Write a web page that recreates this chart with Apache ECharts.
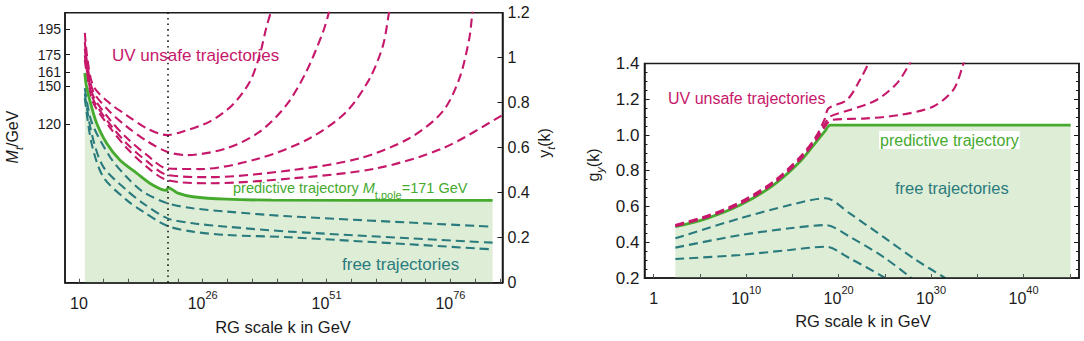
<!DOCTYPE html>
<html>
<head>
<meta charset="utf-8">
<script src="https://cdn.jsdelivr.net/npm/echarts@6/dist/echarts.min.js"></script>
<style>html,body{margin:0;padding:0;background:#fff;}#c{width:1084px;height:341px;}</style>
</head>
<body>
<div id="c"></div>
<script>
// ---------- DATA (x = log10 of k/GeV) ----------
// Left panel: top Yukawa y_t(k)
const leftXTicks = [1, 26, 51, 76];
const leftXMinor = [1, 6, 11, 16, 21, 26, 31, 36, 41, 46, 51, 56, 61, 66, 71, 76, 81, 86];
const leftMtTicks = [120, 150, 161, 175, 195];
const leftYtTicks = [0, 0.2, 0.4, 0.6, 0.8, 1, 1.2];
const planckLog = 18.9;

const leftGreen = [[2.2,0.932],[2.55,0.871],[3.56,0.782],[4.57,0.71],[6.58,0.621],[9.27,0.545],[12.6,0.488],[15.9,0.434],[18.7,0.41],[19.0,0.423],[21,0.398],[24,0.382],[30.8,0.371],[40,0.367],[84.5,0.366]];
const leftUV1 = [[2.2,1.11],[2.7,1.0],[3.9,0.875],[7.25,0.797],[10.6,0.745],[14.7,0.686],[18.8,0.656],[21.4,0.668],[27.4,0.716],[32.0,0.79],[35.5,0.893],[37.5,1.012],[38.8,1.131],[39.85,1.212],[40.3,1.26]];
const leftUV2 = [[2.2,1.07],[2.7,0.97],[3.9,0.85],[7.25,0.76],[10.6,0.695],[14.7,0.63],[18.8,0.582],[22.7,0.567],[30.8,0.597],[37.5,0.671],[42.9,0.79],[46.9,0.938],[50.3,1.116],[51.6,1.212],[52.2,1.26]];
const leftUV3 = [[2.2,1.04],[2.7,0.95],[3.9,0.83],[7.25,0.725],[10.6,0.645],[14.7,0.568],[18.8,0.508],[25.4,0.505],[37.5,0.553],[47.6,0.642],[55.0,0.76],[59.7,0.908],[62.4,1.056],[63.7,1.212],[64.3,1.26]];
const leftUV4 = [[2.2,1.01],[2.7,0.93],[3.9,0.815],[7.25,0.705],[10.6,0.62],[14.7,0.54],[18.8,0.479],[27.4,0.469],[44.2,0.501],[57.7,0.553],[67.7,0.642],[74.4,0.76],[77.8,0.908],[79.8,1.086],[80.5,1.212],[81,1.26]];
const leftUV5 = [[2.2,0.99],[2.7,0.915],[3.9,0.8],[7.25,0.69],[10.6,0.60],[14.7,0.515],[18.8,0.456],[27.4,0.442],[44.2,0.464],[61.0,0.508],[74.4,0.597],[86.5,0.745],[88,0.77]];
const leftFree1 = [[2.2,0.865],[3.56,0.715],[7.25,0.56],[10.6,0.471],[13.96,0.404],[18.9,0.353],[24,0.331],[30.8,0.316],[43.5,0.295],[84.5,0.249]];
const leftFree2 = [[2.2,0.84],[3.56,0.665],[5.9,0.516],[10.6,0.412],[13.96,0.353],[18.9,0.286],[24,0.264],[30.8,0.249],[43.5,0.227],[84.5,0.178]];
const leftFree3 = [[2.2,0.82],[3.56,0.62],[5.9,0.471],[10.6,0.368],[13.96,0.316],[18.9,0.252],[24,0.227],[30.8,0.212],[43.5,0.202],[84.5,0.148]];

// Right panel: g_y(k)
const rightXTicks = [0, 10, 20, 30, 40];
const rightXMinor = [0, 5, 10, 15, 20, 25, 30, 35, 40, 45];
const rightGreen = [[2.34,0.487],[5.76,0.534],[9.35,0.608],[12.95,0.72],[15.8,0.85],[17.6,0.963],[18.5,1.02],[19.1,1.055],[45.1,1.055]];
const rightUV1 = [[2.34,0.497],[5.76,0.548],[9.35,0.625],[12.95,0.74],[15.8,0.875],[17.6,0.995],[18.5,1.09],[18.9,1.149],[20.9,1.196],[22.3,1.308],[23.4,1.42],[23.8,1.48]];
const rightUV2 = [[2.34,0.493],[5.76,0.543],[9.35,0.618],[12.95,0.733],[15.8,0.866],[17.6,0.985],[18.6,1.07],[19.05,1.103],[21.2,1.14],[24.1,1.196],[26.3,1.289],[27.7,1.40],[28.3,1.46]];
const rightUV3 = [[2.34,0.49],[5.76,0.54],[9.35,0.614],[12.95,0.728],[15.8,0.86],[17.6,0.975],[18.7,1.06],[19.2,1.084],[23.0,1.093],[26.6,1.112],[30.2,1.158],[32.4,1.252],[33.4,1.382],[33.8,1.46]];
const rightFree1 = [[2.34,0.422],[9.35,0.534],[14.7,0.608],[18.6,0.646],[21.2,0.561],[24.8,0.431],[28.4,0.30],[31.3,0.207],[32,0.18]];
const rightFree2 = [[2.34,0.37],[9.35,0.44],[14.7,0.478],[18.6,0.496],[21.2,0.431],[24.8,0.319],[27.7,0.207],[28.3,0.18]];
const rightFree3 = [[2.34,0.306],[9.35,0.329],[14.7,0.357],[18.6,0.375],[21.2,0.31],[24.8,0.207],[25.4,0.18]];

// ---------- STYLE ----------
const FONT = 'Liberation Sans, Arial, Helvetica, sans-serif';
const MAG = '#c6186a';
const TEAL = '#2a7b7e';
const GREEN = '#45aa2e';
const FILL = '#deedd6';
const INK = '#1a1a1a';
const DASH = [9, 5];

function supLabel(base, exp) {
  return '{b|' + base + '}{s|' + exp + '}';
}
const supRich = {
  b: { fontSize: 16, fontFamily: FONT, color: INK, lineHeight: 22, verticalAlign: 'bottom' },
  s: { fontSize: 11, fontFamily: FONT, color: INK, lineHeight: 14, verticalAlign: 'top' }
};

function dashed(data, color, xi, yi) {
  return {
    type: 'line', data: data, xAxisIndex: xi, yAxisIndex: yi,
    showSymbol: false, smooth: 0.3, silent: true, clip: true,
    lineStyle: { color: color, width: 2.1, type: DASH }, z: 3
  };
}
const axisLineStyle = { show: true, onZero: false, lineStyle: { color: INK, width: 1.5 } };

const chart = echarts.init(document.getElementById('c'), null, { renderer: 'svg' });

const option = {
  animation: false,
  backgroundColor: '#fff',
  grid: [
    { left: 65, top: 12.7, width: 437.5, height: 270, show: true, borderColor: INK, borderWidth: 1.5, backgroundColor: 'transparent' },
    { left: 644.5, top: 63.5, width: 434.5, height: 214.5, show: true, borderColor: INK, borderWidth: 1.5, backgroundColor: 'transparent' }
  ],
  xAxis: [
    {
      type: 'value', gridIndex: 0, min: -1.8, max: 86.5, z: 10,
      axisLine: axisLineStyle,
      splitLine: { show: false },
      axisTick: { show: true, inside: true, length: 4, customValues: leftXMinor, lineStyle: { color: '#555' } },
      axisLabel: {
        customValues: leftXTicks, margin: 7, color: INK, fontFamily: FONT, fontSize: 16,
        formatter: function (v) { return v === 1 ? '{b|10}' : supLabel('10', v); },
        rich: supRich
      }
    },
    {
      type: 'value', gridIndex: 1, min: -1, max: 46, z: 10,
      axisLine: axisLineStyle,
      splitLine: { show: false },
      axisTick: { show: true, inside: true, length: 4, customValues: rightXMinor, lineStyle: { color: '#555' } },
      axisLabel: {
        customValues: rightXTicks, margin: 6, color: INK, fontFamily: FONT, fontSize: 16,
        formatter: function (v) { return v === 0 ? '{b|1}' : supLabel('10', v); },
        rich: supRich
      }
    }
  ],
  yAxis: [
    { // left M_t axis
      type: 'value', gridIndex: 0, position: 'left', min: -5, max: 208, z: 10,
      axisLine: axisLineStyle,
      splitLine: { show: false },
      axisTick: { show: true, inside: true, length: 5, customValues: leftMtTicks, lineStyle: { color: INK } },
      axisLabel: { customValues: leftMtTicks, margin: 4, color: INK, fontFamily: FONT, fontSize: 14, lineHeight: 12 }
    },
    { // right y_t axis
      type: 'value', gridIndex: 0, position: 'right', min: 0, max: 1.2, interval: 0.2, z: 10,
      axisLine: axisLineStyle,
      splitLine: { show: false },
      axisTick: { show: true, inside: true, length: 5, lineStyle: { color: INK } },
      axisLabel: { margin: 5, color: INK, fontFamily: FONT, fontSize: 16,
        formatter: function (v) { return String(Math.round(v * 10) / 10); } }
    },
    { // g_y left
      type: 'value', gridIndex: 1, position: 'left', min: 0.2, max: 1.4, interval: 0.2, z: 10,
      axisLine: axisLineStyle,
      splitLine: { show: false },
      axisTick: { show: true, inside: true, length: 5, lineStyle: { color: INK } },
      minorTick: { show: true, splitNumber: 4, length: 3, lineStyle: { color: INK } },
      axisLabel: { margin: 5, color: INK, fontFamily: FONT, fontSize: 17,
        formatter: function (v) { return v.toFixed(1); } }
    },
    { // g_y right mirror
      type: 'value', gridIndex: 1, position: 'right', min: 0.2, max: 1.4, interval: 0.2, z: 10,
      axisLine: axisLineStyle,
      splitLine: { show: false },
      axisTick: { show: true, inside: true, length: 5, lineStyle: { color: INK } },
      minorTick: { show: true, splitNumber: 4, length: 3, lineStyle: { color: INK } },
      axisLabel: { show: false }
    }
  ],
  series: [
    // left panel fill + Planck line
    {
      type: 'line', data: leftGreen, xAxisIndex: 0, yAxisIndex: 1, showSymbol: false, smooth: 0.3,
      lineStyle: { width: 0, opacity: 0 }, areaStyle: { color: FILL, opacity: 1 }, silent: true, z: 1,
      markLine: {
        symbol: 'none', silent: true, label: { show: false },
        lineStyle: { type: [1.6, 4], color: INK, width: 1.6 },
        data: [{ xAxis: planckLog }]
      }
    },
    dashed(leftFree1, TEAL, 0, 1),
    dashed(leftFree2, TEAL, 0, 1),
    dashed(leftFree3, TEAL, 0, 1),
    dashed(leftUV1, MAG, 0, 1),
    dashed(leftUV2, MAG, 0, 1),
    dashed(leftUV3, MAG, 0, 1),
    dashed(leftUV4, MAG, 0, 1),
    dashed(leftUV5, MAG, 0, 1),
    {
      type: 'line', data: leftGreen, xAxisIndex: 0, yAxisIndex: 1, showSymbol: false, smooth: 0.3,
      lineStyle: { color: GREEN, width: 2.8 }, silent: true, z: 4
    },
    // right panel
    {
      type: 'line', data: rightGreen, xAxisIndex: 1, yAxisIndex: 2, showSymbol: false, smooth: 0.3,
      lineStyle: { color: GREEN, width: 2.8 }, areaStyle: { color: FILL, opacity: 1 }, silent: true, z: 2
    },
    dashed(rightFree1, TEAL, 1, 2),
    dashed(rightFree2, TEAL, 1, 2),
    dashed(rightFree3, TEAL, 1, 2),
    dashed(rightUV1, MAG, 1, 2),
    dashed(rightUV2, MAG, 1, 2),
    dashed(rightUV3, MAG, 1, 2)
  ],
  graphic: [
    // left panel annotations
    { type: 'text', left: 112, top: 47, z: 10, style: { text: 'UV unsafe trajectories', fill: MAG, font: '17px ' + FONT } },
    { type: 'text', left: 233, top: 180, z: 10, style: {
        text: '{n|predictive trajectory }{i|M}{sub|t,pole}{n|=171 GeV}',
        rich: {
          n: { fontSize: 14.5, fontFamily: FONT, fill: GREEN, color: GREEN, lineHeight: 20, verticalAlign: 'top' },
          i: { fontSize: 14.5, fontFamily: FONT, fontStyle: 'italic', fill: GREEN, color: GREEN, lineHeight: 20, verticalAlign: 'top' },
          sub: { fontSize: 11, fontFamily: FONT, fill: GREEN, color: GREEN, lineHeight: 11, verticalAlign: 'bottom' }
        }
      } },
    { type: 'text', left: 342, top: 256, z: 10, style: { text: 'free trajectories', fill: TEAL, font: '17px ' + FONT } },
    // right panel annotations
    { type: 'text', left: 668, top: 90, z: 10, style: { text: 'UV unsafe trajectories', fill: MAG, font: '16px ' + FONT } },
    { type: 'text', left: 879, top: 131, z: 10, style: { text: 'predictive trajectory', fill: GREEN, font: '16px ' + FONT, backgroundColor: '#fff', padding: [1, 1, 1, 1] } },
    { type: 'text', left: 895, top: 179, z: 10, style: { text: 'free trajectories', fill: TEAL, font: '16.5px ' + FONT } },
    // axis titles
    { type: 'text', x: 14, y: 137, rotation: Math.PI / 2, z: 10, style: {
        text: '{i|M}{sub|t}{n|/GeV}', align: 'center', verticalAlign: 'middle', textAlign: 'center', textVerticalAlign: 'middle',
        rich: {
          n: { fontSize: 16, fontFamily: FONT, fill: INK, color: INK, lineHeight: 20, verticalAlign: 'top' },
          i: { fontSize: 16, fontFamily: FONT, fontStyle: 'italic', fill: INK, color: INK, lineHeight: 20, verticalAlign: 'top' },
          sub: { fontSize: 11, fontFamily: FONT, fontStyle: 'italic', fill: INK, color: INK, lineHeight: 11, verticalAlign: 'bottom' }
        }
      } },
    { type: 'text', x: 546, y: 143, rotation: Math.PI / 2, z: 10, style: {
        text: '{n|y}{sub|t}{n|(k)}', align: 'center', verticalAlign: 'middle', textAlign: 'center', textVerticalAlign: 'middle',
        rich: {
          n: { fontSize: 16, fontFamily: FONT, fill: INK, color: INK, lineHeight: 20, verticalAlign: 'top' },
          sub: { fontSize: 11, fontFamily: FONT, fontStyle: 'italic', fill: INK, color: INK, lineHeight: 11, verticalAlign: 'bottom' }
        }
      } },
    { type: 'text', x: 595, y: 165, rotation: Math.PI / 2, z: 10, style: {
        text: '{n|g}{sub|y}{n|(k)}', align: 'center', verticalAlign: 'middle', textAlign: 'center', textVerticalAlign: 'middle',
        rich: {
          n: { fontSize: 16, fontFamily: FONT, fill: INK, color: INK, lineHeight: 20, verticalAlign: 'top' },
          sub: { fontSize: 11, fontFamily: FONT, fontStyle: 'italic', fill: INK, color: INK, lineHeight: 11, verticalAlign: 'bottom' }
        }
      } },
    { type: 'text', x: 283, y: 327, z: 10, style: { text: 'RG scale k in GeV', fill: INK, font: '16.5px ' + FONT, align: 'center', verticalAlign: 'middle', textAlign: 'center', textVerticalAlign: 'middle' } },
    { type: 'text', x: 863, y: 321, z: 10, style: { text: 'RG scale k in GeV', fill: INK, font: '16.5px ' + FONT, align: 'center', verticalAlign: 'middle', textAlign: 'center', textVerticalAlign: 'middle' } }
  ]
};
chart.setOption(option);
</script>
</body>
</html>
